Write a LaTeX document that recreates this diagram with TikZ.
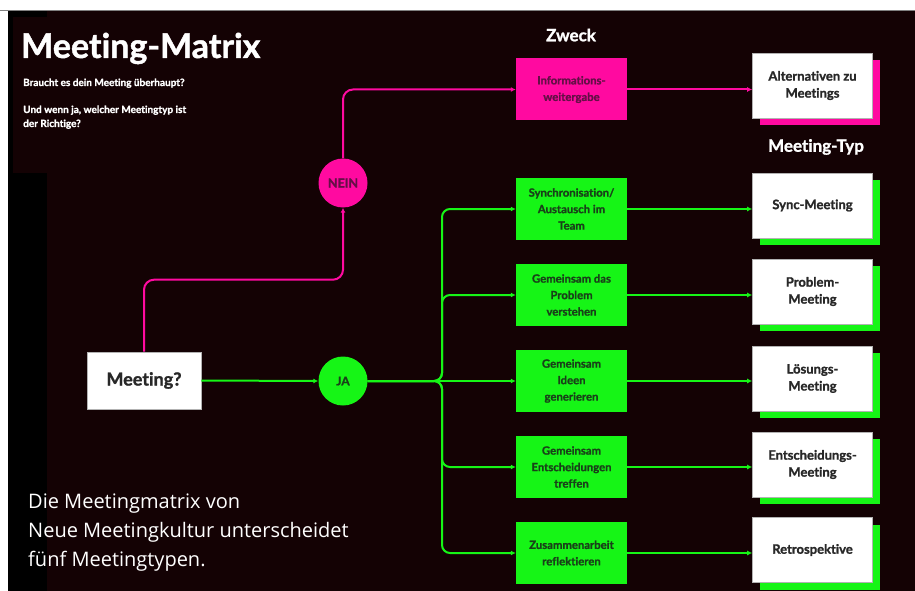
\documentclass[tikz,border=0pt]{standalone}
\usepackage{fontspec}
\setmainfont{Lato}[Ligatures=NoCommon, BoldFeatures={FakeBold=1.3}]
\newfontfamily\plainfont{Open Sans}
\usepackage{tikz}
\usetikzlibrary{arrows.meta,shadows}

\definecolor{bgdark}{RGB}{20,2,4}
\definecolor{hotpink}{RGB}{255,10,160}
\definecolor{brightgreen}{RGB}{22,245,22}
\definecolor{pinktext}{RGB}{100,15,70}
\definecolor{greentext}{RGB}{25,65,25}
\definecolor{boxtext}{RGB}{40,40,40}

\tikzset{
  zweckbox/.style={rectangle, minimum width=111pt, minimum height=62pt, inner sep=1pt,
    align=center, font=\bfseries\fontsize{11.3}{16.5}\selectfont},
  pinkbox/.style={zweckbox, fill=hotpink, text=pinktext},
  greenbox/.style={zweckbox, fill=brightgreen, text=greentext},
  typbox/.style={rectangle, fill=white, draw=gray!60, line width=0.6pt, minimum width=120pt,
    minimum height=65pt, inner sep=1pt, align=center, text=boxtext,
    font=\bfseries\fontsize{13}{17}\selectfont},
  pinktyp/.style={typbox, drop shadow={shadow xshift=7pt, shadow yshift=-7pt, fill=hotpink, opacity=1}},
  greentyp/.style={typbox, drop shadow={shadow xshift=7pt, shadow yshift=-7pt, fill=brightgreen, opacity=1}},
  answer/.style={circle, minimum size=49pt, inner sep=0pt, font=\bfseries\fontsize{12.5}{14}\selectfont},
  pinkline/.style={hotpink, line width=2pt, -{Latex[length=5pt,width=5pt]}},
  greenline/.style={brightgreen, line width=2pt, -{Latex[length=5pt,width=5pt]}},
  heading/.style={text=white, font=\bfseries\fontsize{17}{20}\selectfont},
  intro/.style={anchor=base west, text=white, inner sep=0pt, align=left,
    font=\bfseries\fontsize{10}{14}\selectfont}
}

\begin{document}
\begin{tikzpicture}[x=1pt, y=-1pt]
\useasboundingbox (0,0) rectangle (915,591);

% background
\fill[white] (0,0) rectangle (915,591);
\fill[black] (8,10) rectangle (915,591);
\fill[bgdark] (47,10) rectangle (915,591);
\fill[bgdark] (13,17) rectangle (300,173);
\draw[gray, line width=0.8pt] (0,10) -- (915,10);

% title
\node[anchor=base west, text=white, font=\bfseries\fontsize{34}{40}\selectfont, inner sep=0pt] (title) at (21,58) {Meeting-Matrix};
\node[intro] (frage) at (23,86) {Braucht es dein Meeting überhaupt?};
\node[intro] (typfrage) at (23,127) {Und wenn ja, welcher Meetingtyp ist\\der Richtige?};

\node[heading] (zweck) at (571,35) {Zweck};
\node[heading] (typ) at (816,147) {Meeting-Typ};

%-------------------------------------
\node[rectangle, fill=white, draw=gray!60, line width=0.6pt, minimum width=114pt, minimum height=57pt,
  text=boxtext, font=\bfseries\fontsize{18}{20}\selectfont] (meeting) at (144,380.5) {Meeting?};
\node[answer, fill=hotpink, text=pinktext] (nein) at (343,183) {NEIN};
\node[answer, fill=brightgreen, text=greentext, font=\bfseries\fontsize{12}{14}\selectfont] (ja) at (343,381) {JA};

% Zweck
\node[pinkbox] (info) at (571.5,89.5) {Informations-\\weitergabe};
\node[greenbox] (sync) at (571.5,209) {Synchronisation/\\Austausch im\\Team};
\node[greenbox] (problem) at (571.5,295) {Gemeinsam das\\Problem\\verstehen};
\node[greenbox] (ideen) at (571.5,381) {Gemeinsam\\Ideen\\generieren};
\node[greenbox] (entscheid) at (571.5,467) {Gemeinsam\\Entscheidungen\\treffen};
\node[greenbox] (reflekt) at (571.5,553) {Zusammenarbeit\\reflektieren};

% Meeting-Typ
\node[pinktyp] (alt) at (812.5,85.5) {Alternativen zu\\Meetings};
\node[greentyp] (syncm) at (812.5,205.5) {Sync-Meeting};
\node[greentyp] (problemm) at (812.5,291.5) {Problem-\\Meeting};
\node[greentyp] (loesungm) at (812.5,378.5) {Lösungs-\\Meeting};
\node[greentyp] (entscheidm) at (812.5,464.5) {Entscheidungs-\\Meeting};
\node[greentyp] (retro) at (812.5,550) {Retrospektive};

%-------------------------------------
\draw[pinkline, rounded corners=10pt] (meeting.north) -- ++(0,-72) -| (nein.south);
\draw[pinkline, rounded corners=10pt] (nein.north) |- (info.west);
\draw[pinkline] (info.east) -- (info.east -| alt.west);

\coordinate (trunk) at (442,381);
\draw[greenline] (meeting.east) -- (ja.west);
\draw[greenline] (ja.east) -- (ideen.west);
\foreach \z in {sync,problem,entscheid,reflekt}
  \draw[greenline, rounded corners=8pt] (ja.east) -| (trunk |- \z.west) -- (\z.west);

\draw[greenline] (sync.east) -- (sync.east -| syncm.west);
\draw[greenline] (problem.east) -- (problem.east -| problemm.west);
\draw[greenline] (ideen.east) -- (ideen.east -| loesungm.west);
\draw[greenline] (entscheid.east) -- (entscheid.east -| entscheidm.west);
\draw[greenline] (reflekt.east) -- (reflekt.east -| retro.west);

% note
\node[anchor=base west, text=white, align=left, inner sep=0pt,
  font=\plainfont\fontsize{20}{29}\selectfont] (note) at (28,566)
  {Die Meetingmatrix von\\Neue Meetingkultur unterscheidet\\fünf Meetingtypen.};
\end{tikzpicture}
\end{document}
